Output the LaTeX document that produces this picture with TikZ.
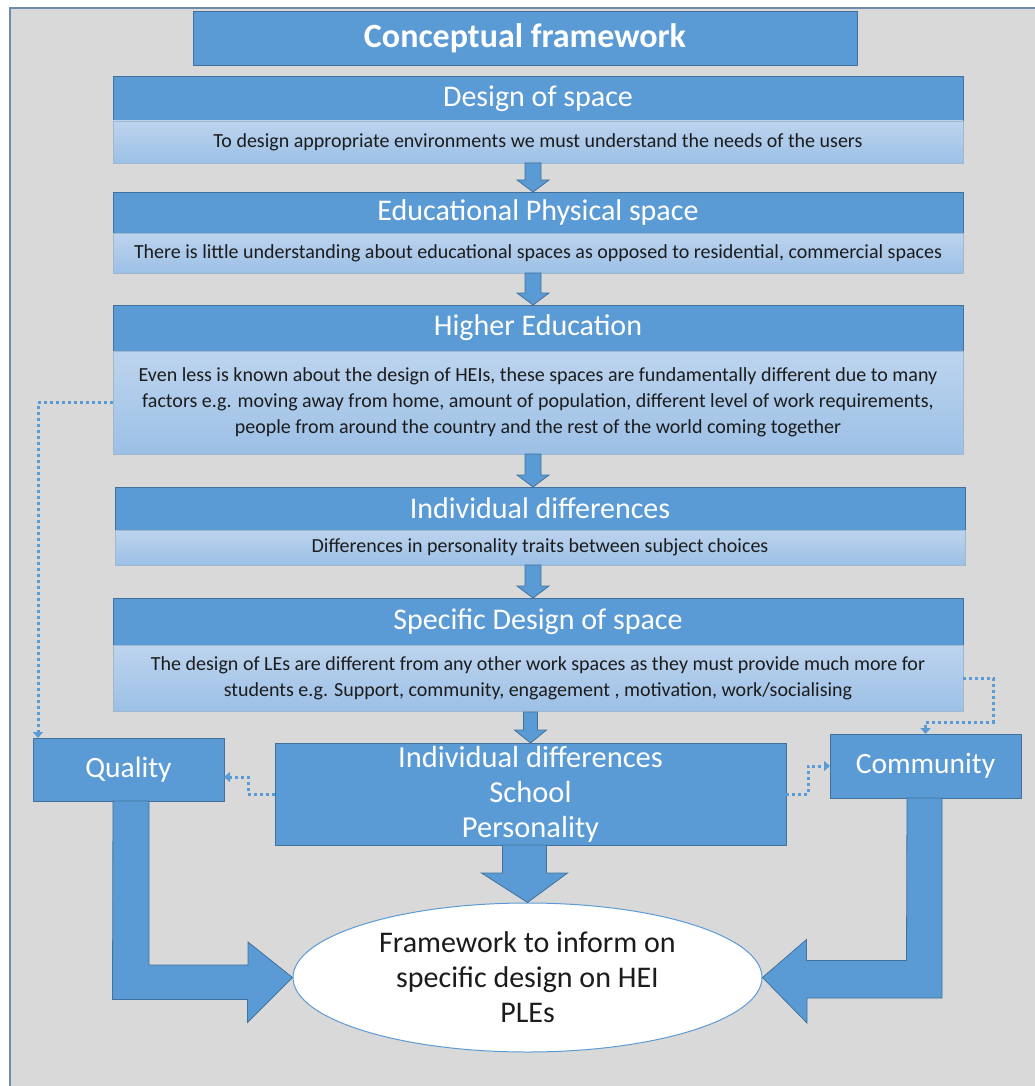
\documentclass[tikz,border=0pt]{standalone}
\usepackage{fontspec}
\setmainfont{Carlito}
\usetikzlibrary{calc,shapes.geometric,arrows.meta}
\definecolor{blu}{HTML}{5B9BD5}
\definecolor{bdr}{HTML}{41719C}
\definecolor{bandtop}{HTML}{BDD4EE}
\definecolor{bandbot}{HTML}{9CC0E6}
\definecolor{panel}{HTML}{D9D9D9}
\definecolor{frame}{HTML}{6F8BAE}
\definecolor{ink}{HTML}{1C1C1C}
\tikzset{
  hdr/.style={draw=bdr, line width=0.8pt, fill=blu, text=white, anchor=north west,
    inner sep=0pt, outer sep=0pt, font=\fontsize{30}{34}\selectfont},
  band/.style={draw=bdr!50, line width=0.6pt, top color=bandtop, bottom color=bandbot,
    text=ink, anchor=north west, inner sep=0pt, outer sep=0pt, align=center,
    font=\fontsize{20}{26}\selectfont},
  sidebox/.style={draw=bdr, line width=0.8pt, fill=blu, text=white, anchor=north west,
    inner sep=0pt, outer sep=0pt, font=\fontsize{29.5}{34}\selectfont},
  blockarrow/.style={fill=blu, draw=bdr, line width=0.8pt},
  dotconn/.style={draw=blu, line width=3pt, dash pattern=on 3pt off 3pt,
    -{Triangle[width=10pt,length=6pt]}},
}
\newcommand\flowarrow[2]{%
  \draw[blockarrow] ($(ax |- #1.south)+(-8,0)$) -- ($(ax |- #2.north)+(-8,-12)$)
    -- ($(ax |- #2.north)+(-16,-12)$) -- (ax |- #2.north)
    -- ($(ax |- #2.north)+(16,-12)$) -- ($(ax |- #2.north)+(8,-12)$)
    -- ($(ax |- #1.south)+(8,0)$) -- cycle;}
\begin{document}
\begin{tikzpicture}[x=1pt, y=-1pt]
\useasboundingbox (0,0) rectangle (1035,1086);
\fill[white] (0,0) rectangle (1035,1086);
\draw[frame, fill=panel, line width=1.5pt] (10,8) rectangle (1045,1096);
\coordinate (ax) at (533,0);

% title
\node[hdr, minimum width=664pt, minimum height=54pt,
  font=\fontsize{34}{38}\selectfont\bfseries] (title) at (193,11) {Conceptual framework};

% stacked stages: header over explanatory band
\node[hdr, minimum width=850pt, minimum height=45pt] (h1) at (113,76) {Design of space};
\node[band, minimum width=850pt, minimum height=42pt] (b1) at (h1.south west)
  {To design appropriate environments we must understand the needs of the users};

\node[hdr, minimum width=850pt, minimum height=41pt] (h2) at (113,192) {Educational Physical space};
\node[band, minimum width=850pt, minimum height=40pt] (b2) at (h2.south west)
  {There is little understanding about educational spaces as opposed to residential, commercial spaces};

\node[hdr, minimum width=850pt, minimum height=46pt] (h3) at (113,305) {Higher Education};
\node[band, minimum width=850pt, minimum height=103pt] (b3) at (h3.south west)
  {Even less is known about the design of HEIs, these spaces are fundamentally different due to many\\
   factors e.g. moving away from home, amount of population, different level of work requirements,\\
   people from around the country and the rest of the world coming together};

\node[hdr, minimum width=850pt, minimum height=43pt] (h4) at (115,487) {Individual differences};
\node[band, minimum width=850pt, minimum height=35pt] (b4) at (h4.south west)
  {Differences in personality traits between subject choices};

\node[hdr, minimum width=850pt, minimum height=47pt] (h5) at (113,598) {Specific Design of space};
\node[band, minimum width=850pt, minimum height=66pt] (b5) at (h5.south west)
  {The design of LEs are different from any other work spaces as they must provide much more for\\
   students e.g. Support, community, engagement , motivation, work/socialising};

\flowarrow{b1}{h2}
\flowarrow{b2}{h3}
\flowarrow{b3}{h4}
\flowarrow{b4}{h5}

% lower row
\node[sidebox, minimum width=191pt, minimum height=63pt] (qual) at (33,738) {Quality};
\node[sidebox, minimum width=191pt, minimum height=64pt] (comm) at (830,734) {Community};
\node[sidebox, minimum width=511pt, minimum height=102pt, align=center,
  font=\fontsize{30.5}{35}\selectfont] (mid) at (275,743)
  {Individual differences\\School\\Personality};

\node[ellipse, draw=blu, line width=1pt, fill=white, minimum width=469pt, minimum height=149pt,
  inner sep=0pt, align=center, text=ink, font=\fontsize{30}{35}\selectfont] (fw) at (527.5,977.5)
  {Framework to inform on\\specific design on HEI\\PLEs};

% arrow from specific design into the middle box
\draw[blockarrow] ($(b5.south -| mid.north)+(-7,1)$) -- ($(mid.north)+(-7,-13)$)
  -- ($(mid.north)+(-16,-13)$) -- ($(mid.north)+(0,0)$) -- ($(mid.north)+(16,-13)$)
  -- ($(mid.north)+(7,-13)$) -- ($(b5.south -| mid.north)+(7,1)$) -- cycle;

% big block arrows into the framework ellipse
\draw[blockarrow] ($(mid.south)+(-28,0)$) -- ++(0,28) -- ++(-21,0) -- (fw.north)
  -- ($(mid.south)+(37,28)$) -- ++(-21,0) -- ($(mid.south)+(16,0)$) -- cycle;
\draw[blockarrow] ($(qual.south)+(-15.5,0)$) -- ++(36,0) -- ++(0,164) -- ++(99,0)
  -- ++(0,-23) -- (fw.west) -- ($(fw.west)+(-45,45)$) -- ++(0,-23) -- ++(-135,0) -- cycle;
\draw[blockarrow] ($(comm.south)+(-18.5,0)$) -- ++(35,0) -- ++(0,200) -- ++(-135,0)
  -- ++(0,25) -- (fw.east) -- ($(fw.east)+(44,-38)$) -- ++(0,21) -- ++(100,0) -- cycle;

% dotted links
\draw[dotconn] (b3.west) -| ([xshift=5pt]qual.north west);
\draw[dotconn] (mid.west) -- ++(-27,0) |- ([yshift=-7.5pt]qual.east);
\draw[dotconn] (mid.east) -- ++(22,0) |- (comm.west);
\draw[dotconn] (b5.east) -- ++(30,0) -- ++(0,44) -| (comm.north);
\end{tikzpicture}
\end{document}
